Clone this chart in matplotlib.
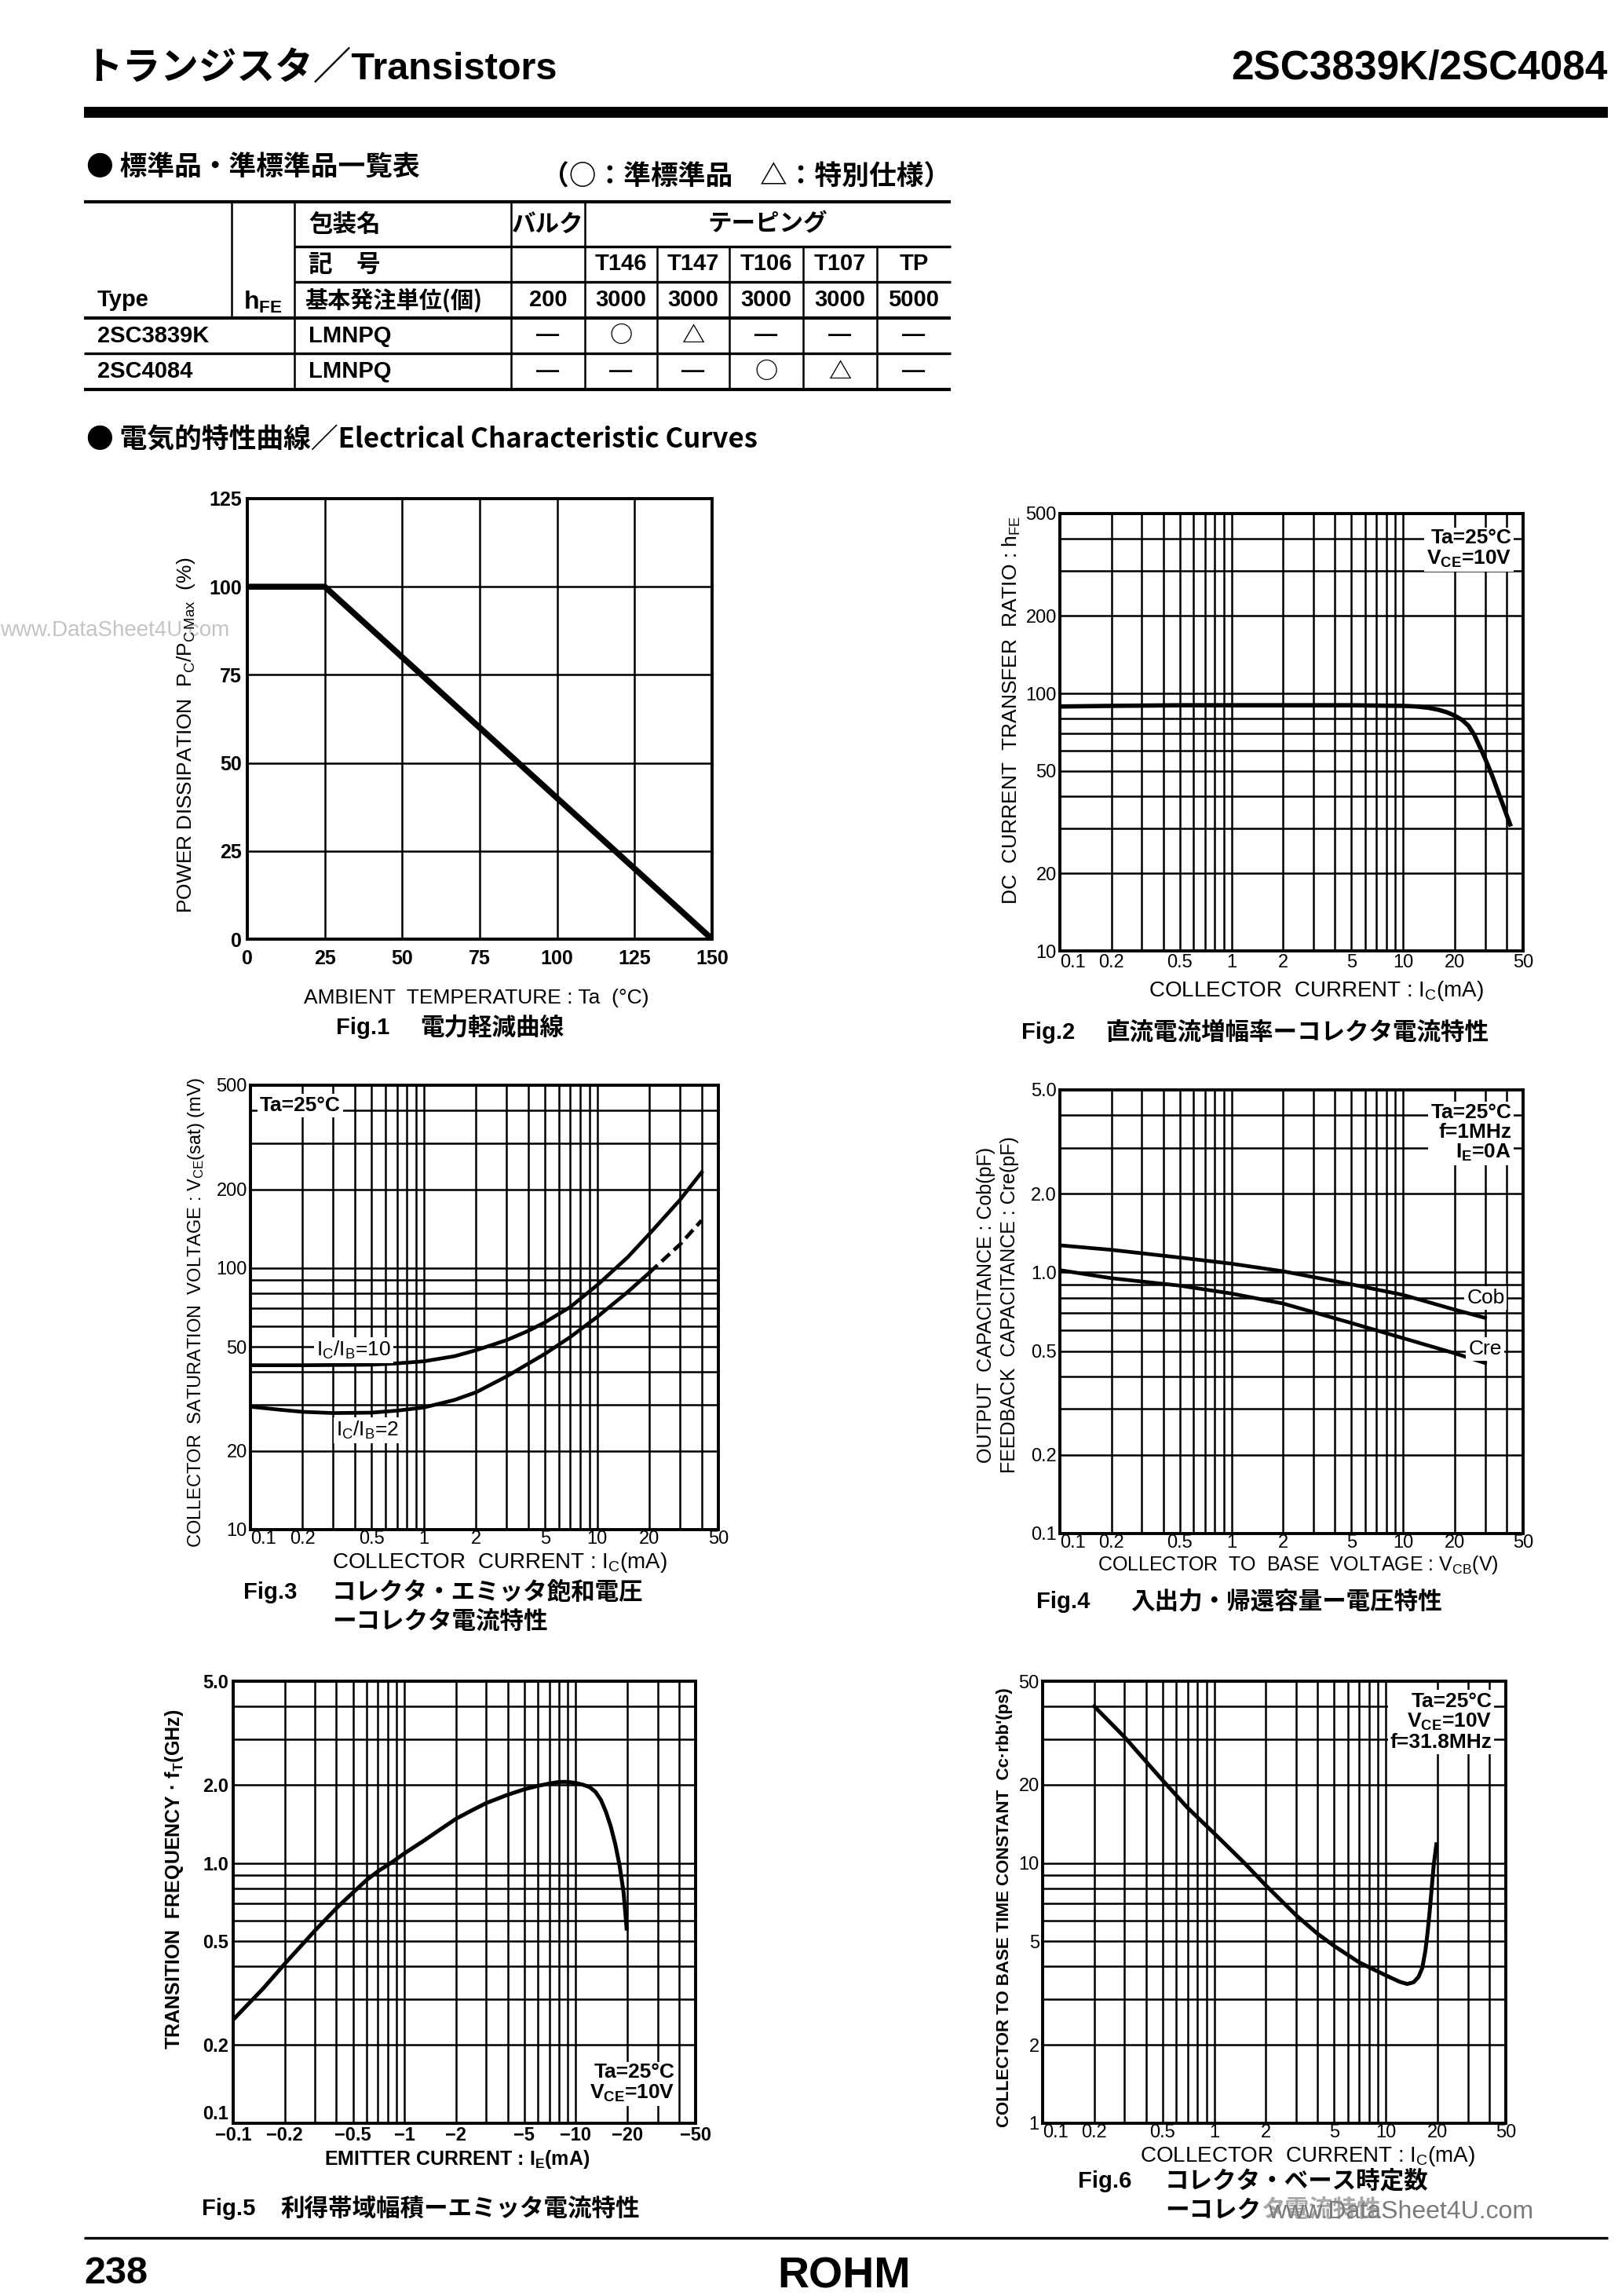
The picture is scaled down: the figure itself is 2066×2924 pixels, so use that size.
"""
ROHM datasheet page 238: 2SC3839K / 2SC4084 characteristic curves
"""
import matplotlib
matplotlib.use('Agg')
import matplotlib.pyplot as plt
from matplotlib.ticker import NullFormatter

W, H = 2066, 2924

# ---- table data ----
pack_names = ['バルク', 'テーピング']
pack_codes = ['T146', 'T147', 'T106', 'T107', 'TP']
order_units = ['200', '3000', '3000', '3000', '3000', '5000']
types = ['2SC3839K', '2SC4084']
hfe_ranks = ['LMNPQ', 'LMNPQ']
availability = [['—', '○', '△', '—', '—', '—'],
                ['—', '—', '—', '○', '△', '—']]

# ---- Fig.1 derating ----
fig1_temp = [0, 25, 150]
fig1_pd = [100, 100, 0]

# ---- Fig.2 hFE vs Ic ----
fig2_ic = [0.1, 0.2, 0.5, 1, 2, 5, 10, 12, 14, 16, 18, 20, 22, 24, 26, 28, 30,
           33, 36, 39, 42]
fig2_hfe = [89, 89.5, 90, 90, 90, 90, 89.5, 89, 88, 86.5, 84.5, 82, 79, 75, 69,
            62, 56, 48, 41, 35.5, 31]

# ---- Fig.3 Vce(sat) vs Ic ----
fig3_ic10 = [0.1, 0.2, 0.5, 0.7, 1, 1.5, 2, 3, 4, 5, 7, 10, 15, 20, 30, 40]
fig3_v10 = [42.5, 42.5, 42.7, 43.2, 44, 46, 48.5, 53, 57.5, 62, 71, 86, 110,
            135, 182, 232]
fig3_ic2 = [0.1, 0.15, 0.2, 0.3, 0.5, 0.7, 1, 1.5, 2, 3, 5, 7, 10, 15, 20]
fig3_v2 = [29.5, 28.7, 28.2, 27.9, 28, 28.5, 29.3, 31.3, 33.5, 38.5, 47, 54.5,
           65, 81, 96]
fig3_ic2_ext = [20, 30, 40]
fig3_v2_ext = [96, 123, 152]

# ---- Fig.4 Cob / Cre vs Vcb ----
fig4_vcb = [0.1, 0.2, 0.5, 1, 2, 5, 10, 20, 30]
fig4_cob = [1.27, 1.22, 1.14, 1.08, 1.01, 0.90, 0.82, 0.72, 0.67]
fig4_cre = [1.02, 0.95, 0.89, 0.83, 0.76, 0.64, 0.56, 0.49, 0.45]

# ---- Fig.5 fT vs Ie ----
fig5_ie = [0.1, 0.15, 0.2, 0.3, 0.4, 0.5, 0.6, 0.7, 0.85, 1, 1.3, 1.6, 2, 2.5,
           3, 4, 5, 6, 7, 8, 9, 10, 11, 12, 13, 14, 15, 16, 17, 18, 19, 19.8]
fig5_ft = [0.25, 0.33, 0.41, 0.55, 0.67, 0.77, 0.86, 0.93, 1.01, 1.09, 1.22,
           1.34, 1.48, 1.60, 1.70, 1.83, 1.92, 1.98, 2.02, 2.05, 2.05, 2.03,
           2.0, 1.96, 1.88, 1.75, 1.57, 1.38, 1.18, 0.98, 0.77, 0.56]

# ---- Fig.6 Cc*rbb' vs Ic ----
fig6_ic = [0.2, 0.3, 0.5, 0.7, 1, 1.5, 2, 3, 4, 5, 7, 10, 12, 13.3, 14.5, 15.5,
           16.3, 17, 17.5, 18, 18.5, 19, 19.7]
fig6_tau = [40, 30.5, 20.8, 16.3, 13.0, 10.0, 8.2, 6.3, 5.35, 4.8, 4.15, 3.7,
            3.5, 3.43, 3.48, 3.65, 3.95, 4.6, 5.4, 6.5, 8.0, 9.8, 11.8]

# axis ticks
log_ticks = [0.1, 0.2, 0.5, 1, 2, 5, 10, 20, 50]
log_minor = [0.3, 0.4, 0.6, 0.7, 0.8, 0.9, 3, 4, 6, 7, 8, 9, 30, 40]
ic_labels = ['0.1', '0.2', '0.5', '1', '2', '5', '10', '20', '50']
ie_labels = ['−0.1', '−0.2', '−0.5', '−1', '−2', '−5', '−10', '−20', '−50']
hfe_ticks = [10, 20, 50, 100, 200, 500]
hfe_minor = [30, 40, 60, 70, 80, 90, 300, 400]
cap_ticks = [0.1, 0.2, 0.5, 1.0, 2.0, 5.0]
cap_minor = [0.3, 0.4, 0.6, 0.7, 0.8, 0.9, 3, 4]
cap_labels = ['0.1', '0.2', '0.5', '1.0', '2.0', '5.0']
tau_ticks = [1, 2, 5, 10, 20, 50]
tau_minor = [3, 4, 6, 7, 8, 9, 30, 40]

plt.rcParams['font.family'] = ['Liberation Sans', 'Noto Sans CJK JP', 'DejaVu Sans']
plt.rcParams['mathtext.fontset'] = 'custom'
plt.rcParams['mathtext.rm'] = 'Liberation Sans'
plt.rcParams['mathtext.bf'] = 'Liberation Sans:bold'
plt.rcParams['mathtext.it'] = 'Liberation Sans:italic'

fig = plt.figure(figsize=(W / 100, H / 100), dpi=100)
page = fig.add_axes([0, 0, 1, 1], zorder=0)
page.set_xlim(0, W)
page.set_ylim(H, 0)
page.axis('off')

CJK = ['Noto Sans CJK JP', 'Liberation Sans']


def hline(x0, x1, y, lw=1.8):
    page.plot([x0, x1], [y, y], color='black', lw=lw, solid_capstyle='butt')


def vline(x, y0, y1, lw=1.8):
    page.plot([x, x], [y0, y1], color='black', lw=lw, solid_capstyle='butt')


# ---- header ----
page.text(107, 88, 'トランジスタ／Transistors', fontsize=35, fontweight='bold',
          va='center', ha='left')
page.text(2048, 88, '2SC3839K/2SC4084', fontsize=37, fontweight='bold',
          va='center', ha='right')
hline(107, 2048, 143, lw=10)

# ---- product table ----
page.text(110, 213, '● 標準品・準標準品一覧表', fontsize=25, fontweight='bold',
          va='center', family=CJK)
page.text(690, 225, '（○：準標準品　△：特別仕様）', fontsize=25, fontweight='bold',
          va='center', family=CJK)

L, R = 107, 1211
cols = [295, 375, 651, 745, 837, 929, 1023, 1117]
rows = [257, 314, 359, 405, 450, 496]
hline(L, R, rows[0], lw=3)
hline(cols[1], R, rows[1], lw=2.4)
hline(cols[1], R, rows[2], lw=2.4)
hline(L, R, rows[3], lw=3)
hline(L, R, rows[4], lw=2.4)
hline(L, R, rows[5], lw=3)
vline(cols[0], rows[0], rows[3])
for cx in cols[1:4]:
    vline(cx, rows[0], rows[5])
for cx in cols[4:]:
    vline(cx, rows[1], rows[5])

tsize = 21
jsize = 22
mid = lambda a, b: (a + b) / 2
col_centers = [mid(cols[2], cols[3])] + [mid(a, b) for a, b in zip(cols[3:], cols[4:] + [R])]
page.text(393, mid(rows[0], rows[1]), '包装名', fontsize=jsize, fontweight='bold',
          va='center', family=CJK)
page.text(col_centers[0], mid(rows[0], rows[1]), pack_names[0], fontsize=jsize,
          fontweight='bold', va='center', ha='center', family=CJK)
page.text(mid(cols[3], R), mid(rows[0], rows[1]), pack_names[1], fontsize=jsize,
          fontweight='bold', va='center', ha='center', family=CJK)
page.text(393, mid(rows[1], rows[2]), '記　号', fontsize=jsize, fontweight='bold',
          va='center', family=CJK)
for cx, code in zip(col_centers[1:], pack_codes):
    page.text(cx, mid(rows[1], rows[2]), code, fontsize=tsize, fontweight='bold',
              va='center', ha='center')
page.text(124, mid(rows[2], rows[3]), 'Type', fontsize=tsize, fontweight='bold', va='center')
page.text(mid(cols[0], cols[1]), mid(rows[2], rows[3]) + 3, r'h$_{\mathbf{FE}}$',
          fontsize=tsize + 2, fontweight='bold', va='center', ha='center')
page.text(388, mid(rows[2], rows[3]), '基本発注単位(個)', fontsize=jsize - 1,
          fontweight='bold', va='center', family=CJK)
for cx, unit in zip(col_centers, order_units):
    page.text(cx, mid(rows[2], rows[3]), unit, fontsize=tsize, fontweight='bold',
              va='center', ha='center')
for i, (tp, rank, marks) in enumerate(zip(types, hfe_ranks, availability)):
    yc = mid(rows[3 + i], rows[4 + i])
    page.text(124, yc, tp, fontsize=tsize, fontweight='bold', va='center')
    page.text(393, yc, rank, fontsize=tsize, fontweight='bold', va='center')
    for cx, m in zip(col_centers, marks):
        page.text(cx, yc, m, fontsize=tsize, fontweight='bold', va='center', ha='center',
                  family=CJK if m != '—' else None)

page.text(110, 560, '● 電気的特性曲線／Electrical Characteristic Curves', fontsize=25,
          fontweight='bold', va='center', family=CJK)

# watermark
page.text(0, 803, 'www.DataSheet4U.com', fontsize=20, color='#c4c4c4', va='center')


# ---- chart helpers ----
def chart_axes(box):
    x0, y0, x1, y1 = box
    return fig.add_axes([x0 / W, 1 - y1 / H, (x1 - x0) / W, (y1 - y0) / H], zorder=2)


def finish(ax, box, xlabel, xl_pos, ylabel, yl_pos, lab_size=19, lab_weight='normal',
           xlab_size=None, xlab_weight=None, xpad=2, ypad=3, linespacing=1.2,
           tick_size=17):
    x0, y0, x1, y1 = box
    ax.tick_params(which='both', length=0, labelsize=tick_size)
    ax.tick_params(axis='x', pad=xpad)
    ax.tick_params(axis='y', pad=ypad)
    ax.grid(True, which='both', color='black', lw=1.8)
    ax.set_axisbelow(True)
    for s in ax.spines.values():
        s.set_linewidth(2.8)
        s.set_zorder(3)
    ax.set_xlabel(xlabel, fontsize=xlab_size or lab_size,
                  fontweight=xlab_weight or lab_weight, va='center')
    ax.xaxis.set_label_coords((xl_pos[0] - x0) / (x1 - x0), (y1 - xl_pos[1]) / (y1 - y0))
    ax.set_ylabel(ylabel, fontsize=lab_size, fontweight=lab_weight, va='center',
                  linespacing=linespacing)
    ax.yaxis.set_label_coords((yl_pos[0] - x0) / (x1 - x0), (y1 - yl_pos[1]) / (y1 - y0))


def log_x(ax, lo, hi, labels, weight='normal', first_left=True):
    ax.set_xscale('log')
    ax.set_xlim(lo, hi)
    ax.set_xticks(log_ticks)
    ax.set_xticklabels(labels, fontweight=weight)
    ax.set_xticks(log_minor, minor=True)
    ax.xaxis.set_minor_formatter(NullFormatter())
    if first_left:
        ax.xaxis.get_major_ticks()[0].label1.set_horizontalalignment('left')


def log_y(ax, lo, hi, ticks, minor, labels, weight='normal', first_up=False):
    ax.set_yscale('log')
    ax.set_ylim(lo, hi)
    ax.set_yticks(ticks)
    ax.set_yticklabels(labels, fontweight=weight)
    ax.set_yticks(minor, minor=True)
    ax.yaxis.set_minor_formatter(NullFormatter())
    if first_up:
        ax.yaxis.get_major_ticks()[0].label1.set_verticalalignment('bottom')


def note(ax, x, y, s, ha, va, weight='bold', size=19, trans=True):
    ax.text(x, y, s, ha=ha, va=va, fontsize=size, fontweight=weight, zorder=4,
            transform=ax.transAxes if trans else ax.transData,
            bbox=dict(facecolor='white', edgecolor='none', pad=2), linespacing=1.05)


def caption(x_fig, x_jp, y, num, jp, jp2=None, x_jp2=None, y2=None):
    page.text(x_fig, y, num, fontsize=21, fontweight='bold', va='center')
    page.text(x_jp, y, jp, fontsize=22, fontweight='bold', va='center', family=CJK)
    if jp2:
        page.text(x_jp2, y2, jp2, fontsize=22, fontweight='bold', va='center', family=CJK)


# ---- Fig.1 ----
box1 = (315, 635, 907, 1196)
ax1 = chart_axes(box1)
ax1.plot(fig1_temp, fig1_pd, color='black', lw=5.5, solid_capstyle='butt', zorder=3)
ax1.set_xlim(0, 150)
ax1.set_ylim(0, 125)
ax1.set_xticks([0, 25, 50, 75, 100, 125, 150])
ax1.set_xticklabels(['0', '25', '50', '75', '100', '125', '150'], fontweight='bold')
ax1.set_yticks([0, 25, 50, 75, 100, 125])
ax1.set_yticklabels(['0', '25', '50', '75', '100', '125'], fontweight='bold')
finish(ax1, box1, 'AMBIENT  TEMPERATURE : Ta  (°C)', (607, 1271),
       r'POWER DISSIPATION  P$_{\mathrm{C}}$/P$_{\mathrm{C\,Max}}$  (%)', (237, 936),
       xpad=9, ypad=5, tick_size=18)
caption(428, 535, 1309, 'Fig.1', '電力軽減曲線')

# ---- Fig.2 ----
box2 = (1350, 654, 1940, 1211)
ax2 = chart_axes(box2)
ax2.plot(fig2_ic, fig2_hfe, color='black', lw=4, zorder=3)
log_x(ax2, 0.1, 50, ic_labels)
log_y(ax2, 10, 500, hfe_ticks, hfe_minor, [str(v) for v in hfe_ticks])
finish(ax2, box2, r'COLLECTOR  CURRENT : I$_{\mathrm{C}}$(mA)', (1677, 1262),
       r'DC  CURRENT  TRANSFER  RATIO : h$_{\mathrm{FE}}$', (1288, 904),
       xlab_size=20, xpad=3)
note(ax2, 0.975, 0.965, 'Ta=25°C\n' + r'V$_{\mathbf{CE}}$=10V', 'right', 'top')
caption(1301, 1408, 1315, 'Fig.2', '直流電流増幅率ーコレクタ電流特性')

# ---- Fig.3 ----
box3 = (319, 1382, 915, 1948)
ax3 = chart_axes(box3)
ax3.plot(fig3_ic10, fig3_v10, color='black', lw=3.4, zorder=3)
ax3.plot(fig3_ic2, fig3_v2, color='black', lw=3.4, zorder=3)
ax3.plot(fig3_ic2_ext, fig3_v2_ext, color='black', lw=3.4, ls=(0, (3, 1.5)), zorder=3)
log_x(ax3, 0.1, 50, ic_labels)
log_y(ax3, 10, 500, hfe_ticks, hfe_minor, [str(v) for v in hfe_ticks])
finish(ax3, box3, r'COLLECTOR  CURRENT : I$_{\mathrm{C}}$(mA)', (637, 1990),
       r'COLLECTOR  SATURATION  VOLTAGE : V$_{\mathrm{CE}}$(sat) (mV)', (250, 1671),
       lab_size=17, xlab_size=20, xpad=1)
note(ax3, 0.02, 0.975, 'Ta=25°C', 'left', 'top')
note(ax3, 0.24, 48.5, r'I$_{\mathrm{C}}$/I$_{\mathrm{B}}$=10', 'left', 'center',
     weight='normal', trans=False)
note(ax3, 0.31, 24, r'I$_{\mathrm{C}}$/I$_{\mathrm{B}}$=2', 'left', 'center',
     weight='normal', trans=False)
caption(310, 423, 2028, 'Fig.3', 'コレクタ・エミッタ飽和電圧', 'ーコレクタ電流特性', 423, 2066)

# ---- Fig.4 ----
box4 = (1350, 1388, 1940, 1953)
ax4 = chart_axes(box4)
ax4.plot(fig4_vcb, fig4_cob, color='black', lw=3.4, zorder=3)
ax4.plot(fig4_vcb, fig4_cre, color='black', lw=3.4, zorder=3)
log_x(ax4, 0.1, 50, ic_labels)
log_y(ax4, 0.1, 5.0, cap_ticks, cap_minor, cap_labels)
finish(ax4, box4, r'COLLECTOR  TO  BASE  VOLTAGE : V$_{\mathrm{CB}}$(V)', (1653, 1993),
       'OUTPUT  CAPACITANCE : Cob(pF)\nFEEDBACK  CAPACITANCE : Cre(pF)', (1271, 1662),
       lab_size=18, linespacing=1.35, xpad=1)
note(ax4, 0.975, 0.97, 'Ta=25°C\nf=1MHz\n' + r'I$_{\mathbf{E}}$=0A', 'right', 'top')
note(ax4, 23.5, 0.80, 'Cob', 'left', 'center', weight='normal', trans=False)
note(ax4, 24, 0.51, 'Cre', 'left', 'center', weight='normal', trans=False)
caption(1320, 1440, 2040, 'Fig.4', '入出力・帰還容量ー電圧特性')

# ---- Fig.5 ----
box5 = (297, 2141, 886, 2704)
ax5 = chart_axes(box5)
ax5.plot(fig5_ie, fig5_ft, color='black', lw=3.6, zorder=3)
log_x(ax5, 0.1, 50, ie_labels, weight='bold', first_left=False)
log_y(ax5, 0.1, 5.0, cap_ticks, cap_minor, cap_labels, weight='bold', first_up=True)
finish(ax5, box5, r'EMITTER CURRENT : I$_{\mathbf{E}}$(mA)', (582, 2750),
       r'TRANSITION  FREQUENCY · f$_{\mathbf{T}}$(GHz)', (222, 2393),
       lab_size=18, lab_weight='bold', xpad=3, ypad=4)
note(ax5, 0.955, 0.045, 'Ta=25°C\n' + r'V$_{\mathbf{CE}}$=10V', 'right', 'bottom')
caption(257, 357, 2813, 'Fig.5', '利得帯域幅積ーエミッタ電流特性')

# ---- Fig.6 ----
box6 = (1328, 2141, 1918, 2704)
ax6 = chart_axes(box6)
ax6.plot(fig6_ic, fig6_tau, color='black', lw=3.6, zorder=3)
log_x(ax6, 0.1, 50, ic_labels)
log_y(ax6, 1, 50, tau_ticks, tau_minor, [str(v) for v in tau_ticks])
finish(ax6, box6, r'COLLECTOR  CURRENT : I$_{\mathrm{C}}$(mA)', (1666, 2746),
       "COLLECTOR TO BASE TIME CONSTANT  Cc·rbb'(ps)", (1280, 2429),
       lab_size=16, lab_weight='bold', xlab_size=20, xlab_weight='normal', xpad=1)
note(ax6, 0.97, 0.975, 'Ta=25°C\n' + r'V$_{\mathbf{CE}}$=10V' + '\nf=31.8MHz', 'right', 'top')
caption(1373, 1484, 2778, 'Fig.6', 'コレクタ・ベース時定数')
page.text(1484, 2815, 'ーコレク', fontsize=22, fontweight='bold', va='center', family=CJK)
page.text(1606, 2815, 'タ電流特性', fontsize=22, fontweight='bold', va='center',
          family=CJK, color='#a8a8a8')
page.text(1615, 2817, 'www.DataSheet4U.com', fontsize=23, va='center', color='#7a7a7a')

# ---- footer ----
hline(107, 2048, 2850, lw=2.4)
page.text(107, 2896, '238', fontsize=35, fontweight='bold', va='center')
page.text(1075, 2900, 'ROHM', fontsize=40, fontweight='bold', va='center', ha='center')

fig.savefig('out.png', dpi=100)
